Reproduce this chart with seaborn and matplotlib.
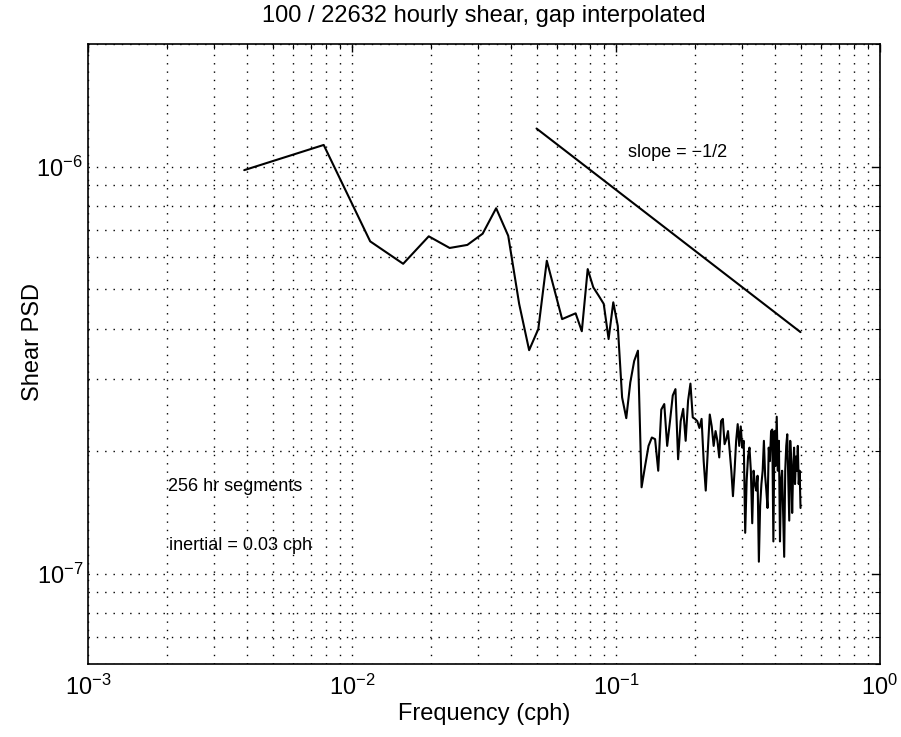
import numpy as np
import pandas as pd
import matplotlib
matplotlib.use("Agg")
import matplotlib.pyplot as plt
import matplotlib.ticker as mticker
import seaborn as sns

# Shear power spectral density, one value per frequency bin (units of 1e-7)
psd_e7 = [
    9.8, 11.3, 6.55, 5.77, 6.74, 6.31, 6.42, 6.84, 7.9, 6.76,
    4.60, 3.54, 3.99, 5.87, 4.95, 4.22, 4.29, 4.36, 3.94, 5.60,
    5.05, 4.82, 4.60, 3.77, 4.64, 4.06, 2.71, 2.41, 2.95, 3.33,
    3.53, 1.63, 1.84, 2.06, 2.16, 2.14, 1.79, 2.53, 2.61, 2.06,
    2.37, 2.74, 2.84, 1.91, 2.37, 2.54, 2.12, 2.66, 2.93, 2.42,
    2.40, 2.37, 2.28, 2.40, 1.89, 1.60, 2.00, 2.46, 2.30, 2.06,
    2.24, 2.12, 1.93, 2.37, 2.40, 2.08, 2.14, 2.24, 2.00, 1.79,
    1.55, 1.79, 2.12, 2.33, 2.06, 2.30, 2.04, 2.12, 1.26, 1.69,
    1.94, 2.04, 1.79, 1.33, 1.79, 1.66, 1.60, 1.74, 1.07, 1.47,
    1.66, 1.79, 2.12, 1.74, 1.60, 1.45, 2.04, 1.89, 2.24, 2.26,
    1.20, 2.24, 1.84, 2.43, 1.79, 2.12, 1.20, 1.69, 1.79, 1.39,
    1.10, 1.79, 2.06, 2.20, 1.74, 1.35, 2.12, 1.89, 1.41, 1.79,
    2.04, 1.66, 1.94, 1.79, 2.06, 1.66, 1.79, 1.45,
]

# Segment length in hours; bins sit at k / segment length (cph)
segment_hours = 256

# Reference power law with slope -1/2
ref_freq = [0.05, 0.5]
ref_psd = [1.24e-6, 3.92e-7]

title = "100 / 22632 hourly shear, gap interpolated"
notes = [
    (0.111, 1.08e-6, "slope = \u22121/2"),
    (0.00201, 1.64e-7, "256 hr segments"),
    (0.00203, 1.17e-7, "inertial = 0.03 cph"),
]

psd = np.array(psd_e7) * 1e-7
freq = np.arange(1, len(psd) + 1) / segment_hours
spec = pd.DataFrame({"freq": freq, "psd": psd})
ref = pd.DataFrame({"freq": ref_freq, "psd": ref_psd})

sns.set_style("white")
plt.rcParams["font.family"] = ["Liberation Sans", "DejaVu Sans"]
plt.rcParams["mathtext.fontset"] = "custom"
plt.rcParams["mathtext.rm"] = "Liberation Sans"
plt.rcParams["mathtext.it"] = "Liberation Sans:italic"
plt.rcParams["mathtext.bf"] = "Liberation Sans:bold"
for key in ("text.color", "axes.labelcolor", "xtick.color", "ytick.color"):
    plt.rcParams[key] = "black"

fig = plt.figure(figsize=(9.01, 7.37), dpi=100)
ax = fig.add_axes([88 / 901, 73 / 737, 792 / 901, 620 / 737])
ax.set_xscale("log")
ax.set_yscale("log")

sns.lineplot(data=spec, x="freq", y="psd", ax=ax, color="black",
             linewidth=1.5, sort=False, estimator=None)
sns.lineplot(data=ref, x="freq", y="psd", ax=ax, color="black",
             linewidth=1.5, sort=False, estimator=None)

ax.set_xlim(1e-3, 1)
ax.set_ylim(6e-8, 2e-6)

ax.xaxis.set_major_locator(mticker.LogLocator(base=10, numticks=10))
ax.xaxis.set_minor_locator(mticker.LogLocator(base=10, subs=np.arange(2, 10), numticks=20))
ax.yaxis.set_major_locator(mticker.LogLocator(base=10, numticks=10))
ax.yaxis.set_minor_locator(mticker.LogLocator(base=10, subs=np.arange(2, 10), numticks=20))
ax.xaxis.set_minor_formatter(mticker.NullFormatter())
ax.yaxis.set_minor_formatter(mticker.NullFormatter())

grid_style = dict(color="black", linestyle=(0, (1, 5)), linewidth=1.0)
ax.grid(True, which="both", axis="both", **grid_style)

ax.tick_params(which="both", direction="in", top=True, right=True,
               color="black", labelsize=17)
ax.tick_params(which="major", length=6, width=1)
ax.tick_params(which="minor", length=3.5, width=0.8)
ax.tick_params(axis="x", which="major", pad=8)
for s in ax.spines.values():
    s.set_color("black")
    s.set_linewidth(1.2)

ax.set_xlabel("Frequency (cph)", fontsize=17, labelpad=2)
ax.set_ylabel("Shear PSD", fontsize=17)
ax.yaxis.set_label_coords(-0.056, 0.52)
ax.set_title(title, fontsize=17, pad=16)

for x, y, s in notes:
    ax.text(x, y, s, fontsize=13, ha="left", va="center", color="black")

fig.savefig("out.png", dpi=100, facecolor="white")
